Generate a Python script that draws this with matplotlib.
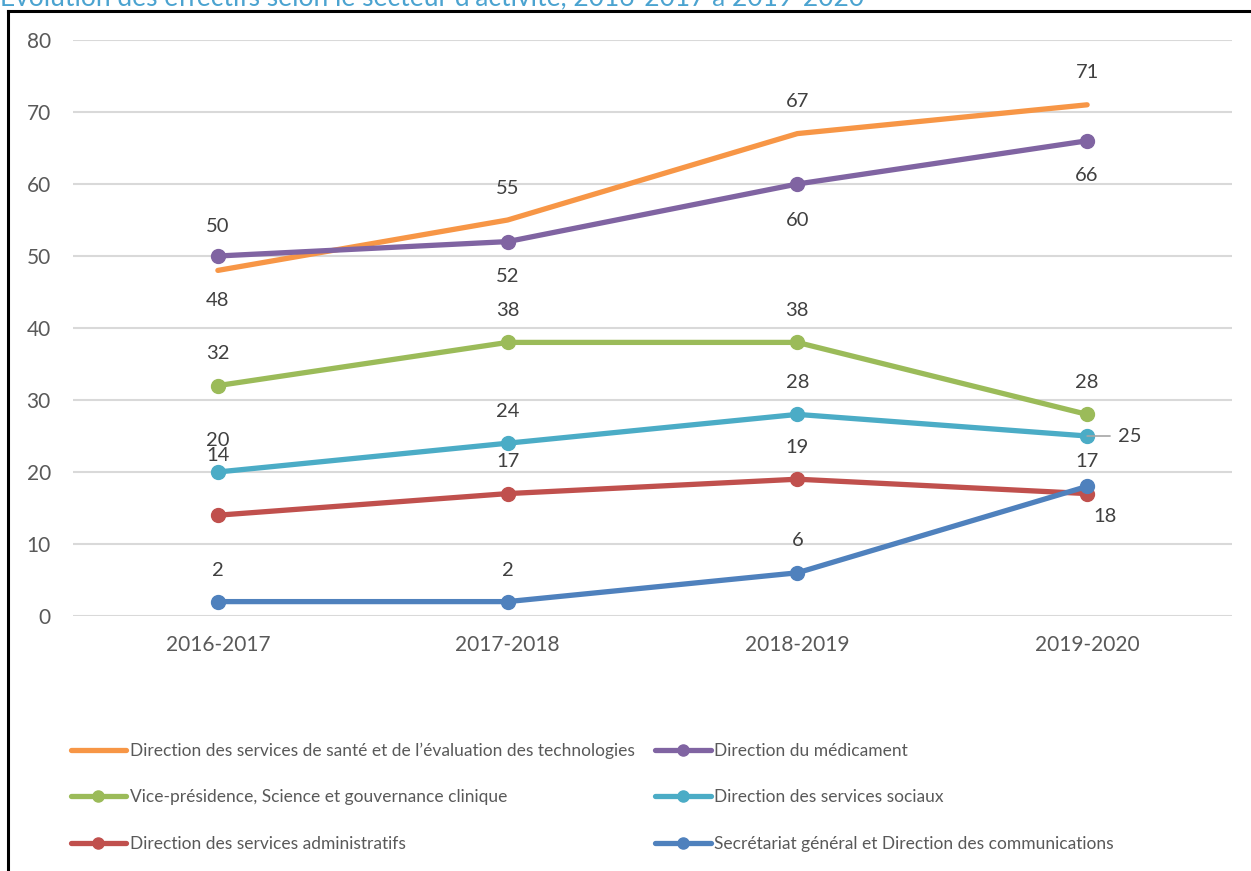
import matplotlib.pyplot as plt
from matplotlib.lines import Line2D

plt.rcParams['font.family'] = ['Lato', 'DejaVu Sans']

# Data
years = ['2016-2017', '2017-2018', '2018-2019', '2019-2020']
sante = [48, 55, 67, 71]
medicament = [50, 52, 60, 66]
vice_presidence = [32, 38, 38, 28]
sociaux = [20, 24, 28, 25]
administratifs = [14, 17, 19, 17]
secretariat = [2, 2, 6, 18]
yticks = [0, 10, 20, 30, 40, 50, 60, 70, 80]

# name, values, colour, marker, label offsets (pixels) per point
series = [
    ('Direction des services de santé et de l’évaluation des technologies', sante, '#F79646', None,
     [(0, -30), (0, 31), (0, 32), (0, 32)]),
    ('Vice-présidence, Science et gouvernance clinique', vice_presidence, '#9BBB59', 'o',
     [(0, 32), (0, 32), (0, 32), (0, 32)]),
    ('Direction des services administratifs', administratifs, '#C0504D', 'o',
     [(0, 60), (0, 32), (0, 32), (0, 32)]),
    ('Direction du médicament', medicament, '#8064A2', 'o',
     [(0, 29), (0, -35), (0, -36), (0, -35)]),
    ('Direction des services sociaux', sociaux, '#4BACC6', 'o',
     [(0, 32), (0, 32), (0, 32), (43, 0)]),
    ('Secrétariat général et Direction des communications', secretariat, '#4F81BD', 'o',
     [(0, 31), (0, 31), (0, 32), (18, -30)]),
]

fig = plt.figure(figsize=(12.51, 8.71), dpi=100)
ax = fig.add_axes([73 / 1251, 1 - 616 / 871, 1159 / 1251, 576 / 871])

x = list(range(len(years)))
handles = []
for name, vals, color, marker, offs in series:
    line, = ax.plot(x, vals, color=color, lw=3.8, marker=marker, markersize=10,
                    solid_capstyle='round', label=name, zorder=3)
    handles.append(line)

# data labels drawn after all lines so they sit on top
for name, vals, color, marker, offs in series:
    for xi, v, (dx, dy) in zip(x, vals, offs):
        if dx > 30:
            ax.annotate(str(v), (xi, v), xytext=(dx, dy), textcoords='offset pixels',
                        ha='center', va='center', fontsize=14.5, color='#404040',
                        arrowprops=dict(arrowstyle='-', color='#A6A6A6', lw=1.2,
                                        shrinkA=4, shrinkB=0), zorder=5)
        else:
            ax.annotate(str(v), (xi, v), xytext=(dx, dy), textcoords='offset pixels',
                        ha='center', va='center', fontsize=14.5, color='#404040', zorder=5)

ax.set_xlim(-0.5, 3.5)
ax.set_ylim(0, 80)
ax.set_yticks(yticks)
ax.set_xticks(x)
ax.set_xticklabels(years)
ax.tick_params(axis='both', length=0, labelsize=15, labelcolor='#595959')
ax.tick_params(axis='y', pad=16)
ax.tick_params(axis='x', pad=14)
ax.grid(axis='y', color='#D9D9D9', lw=1.5, zorder=0)
ax.set_axisbelow(True)
for s in ax.spines.values():
    s.set_visible(False)

leg = fig.legend(handles=handles, loc='upper left', bbox_to_anchor=(55 / 1251, 1 - 727 / 871),
                 ncol=2, frameon=False, fontsize=12.5, labelcolor='#595959',
                 handlelength=3.2, handletextpad=0.2, columnspacing=1.2,
                 labelspacing=1.75, markerscale=0.8)

# chart frame (top and left edges visible in the crop)
fig.add_artist(Line2D([8 / 1251, 1], [1 - 11 / 871, 1 - 11 / 871], color='black', lw=2.2,
                      transform=fig.transFigure))
fig.add_artist(Line2D([8 / 1251, 8 / 1251], [0, 1 - 11 / 871], color='black', lw=2.2,
                      transform=fig.transFigure))

# title, cut off at the top of the picture as in the reference
fig.text(0.0, 1 - 5 / 871,
         'Évolution des effectifs selon le secteur d’activité, 2016-2017 à 2019-2020',
         color='#4BA3D0', fontsize=19, ha='left', va='baseline')

fig.savefig('out.png', dpi=100)
